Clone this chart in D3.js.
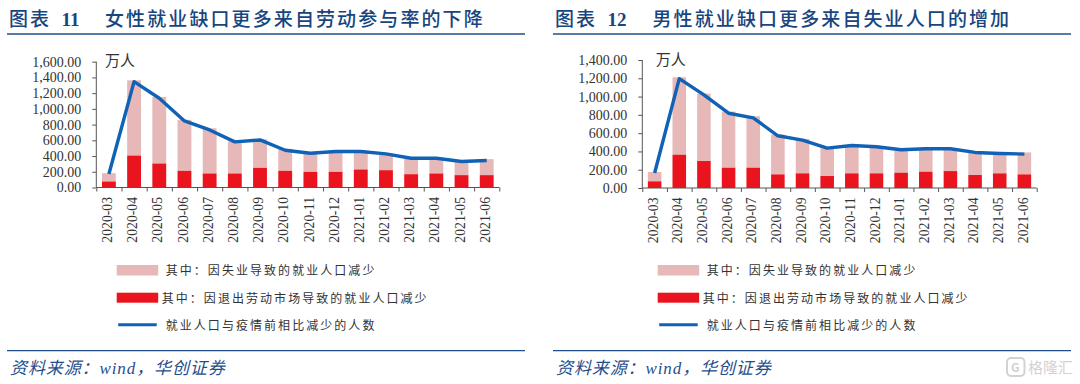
<!DOCTYPE html>
<html>
<head>
<meta charset="utf-8">
<script src="https://cdn.jsdelivr.net/npm/d3@7"></script>
<style>
    html, body { margin: 0; padding: 0; background: #fff; }
    svg { display: block; }
    text { font-family: "Noto Sans CJK SC", sans-serif; }
    .num { font-family: "Liberation Serif", "Noto Sans CJK SC", serif; }
</style>
</head>
<body>
<div id="chart"></div>
<script>
// months on the x axis, shared by both charts
const months = ["2020-03", "2020-04", "2020-05", "2020-06", "2020-07", "2020-08", "2020-09", "2020-10",
    "2020-11", "2020-12", "2021-01", "2021-02", "2021-03", "2021-04", "2021-05", "2021-06"];

// chart 11 - women
const womenLabourExit = [76, 406, 305, 212, 178, 178, 250, 212, 199, 199, 229, 220, 169, 178, 157, 157];
const womenUnemployed = [106, 957, 846, 648, 575, 406, 364, 279, 237, 258, 228, 208, 203, 194, 173, 203];
const womenTotal = [171, 1346, 1135, 847, 732, 580, 605, 474, 436, 457, 457, 428, 372, 372, 330, 343];

// chart 12 - men
const menLabourExit = [73, 364, 295, 222, 222, 149, 160, 131, 160, 160, 167, 178, 185, 142, 160, 149];
const menUnemployed = [102, 847, 738, 614, 563, 436, 378, 305, 305, 295, 251, 251, 244, 247, 222, 240];
const menTotal = [164, 1196, 1018, 818, 767, 571, 524, 436, 465, 451, 418, 429, 429, 389, 378, 371];

const legendLabels = ["其中：因失业导致的就业人口减少", "其中：因退出劳动市场导致的就业人口减少", "就业人口与疫情前相比减少的人数"];

const PINK = "#e6b8b7", RED = "#e9141d", BLUE = "#0f62b5", NAVY = "#1f4e8c", TITLE = "#17457f";

const svg = d3.select("#chart").append("svg")
    .attr("width", 1080)
    .attr("height", 384);

function drawPanel(cfg) {
    let g = svg.append("g");

    // header and footer rules
    g.append("line").attr("x1", cfg.ruleX).attr("x2", cfg.ruleX + 518).attr("y1", 34).attr("y2", 34)
        .attr("stroke", NAVY).attr("stroke-width", 1.5);
    g.append("line").attr("x1", cfg.ruleX).attr("x2", cfg.ruleX + 518).attr("y1", 350.7).attr("y2", 350.7)
        .attr("stroke", NAVY).attr("stroke-width", 1.2);
    g.append("text").attr("x", cfg.ruleX + 2).attr("y", 26)
        .attr("fill", TITLE).attr("font-size", 19).attr("font-weight", 500)
        .attr("letter-spacing", 2).text("图表");
    g.append("text").attr("class", "num").attr("x", cfg.ruleX + 54.5).attr("y", 26)
        .attr("fill", TITLE).attr("font-size", 19).attr("font-weight", 700).text(cfg.number);
    g.append("text").attr("x", cfg.ruleX + cfg.titleOffset).attr("y", 26)
        .attr("fill", TITLE).attr("font-size", 19).attr("font-weight", 500)
        .attr("letter-spacing", 2.1).text(cfg.title);

    // scales
    let x = d3.scaleBand().domain(months).range([cfg.left, cfg.right]).paddingInner(0.45).paddingOuter(0.225);
    let edges = d3.scaleLinear().domain([0, months.length]).range([cfg.left, cfg.right]);
    let y = d3.scaleLinear().domain([0, cfg.yMax]).range([cfg.bottom, cfg.top]);

    // stacked bars
    let stacked = months.map((m, i) => ({ month: m, exit: cfg.exit[i], unemployed: cfg.unemployed[i] }));
    let series = d3.stack().keys(["exit", "unemployed"])(stacked);
    let colors = { exit: RED, unemployed: PINK };
    g.selectAll(".layer")
        .data(series.slice().reverse())
        .enter().append("g")
        .attr("fill", d => colors[d.key])
        .selectAll("rect")
        .data(d => d)
        .enter().append("rect")
        .attr("x", d => x(d.data.month))
        .attr("width", x.bandwidth())
        .attr("y", d => y(d[1]))
        .attr("height", d => y(d[0]) - y(d[1]));

    // axes
    let yAxis = d3.axisLeft(y).tickValues(d3.range(0, cfg.yMax + 1, 200))
        .tickFormat(d3.format(",.2f")).tickSize(4).tickPadding(11);
    let yG = g.append("g").attr("transform", `translate(${cfg.left},0)`).call(yAxis);
    yG.select(".domain").attr("stroke", "#555").attr("d", `M0,${cfg.top}V${cfg.bottom}`);
    yG.selectAll(".tick line").attr("stroke", "#555");
    yG.selectAll("text").attr("class", "num").attr("font-size", 14).attr("fill", "#333");

    let tickG = g.append("g").attr("transform", `translate(0,${cfg.bottom})`)
        .call(d3.axisBottom(edges).tickValues(d3.range(0, months.length + 1)).tickFormat("").tickSize(4));
    tickG.select(".domain").attr("stroke", "#555").attr("d", `M${cfg.left},0H${cfg.right}`);
    tickG.selectAll(".tick line").attr("stroke", "#555");

    let xG = g.append("g").attr("transform", `translate(0,${cfg.bottom})`)
        .call(d3.axisBottom(x).tickSize(0));
    xG.select(".domain").remove();
    xG.selectAll("text").attr("class", "num")
        .attr("font-size", 13.7).attr("fill", "#333")
        .attr("transform", "rotate(-90)")
        .attr("text-anchor", "end")
        .attr("x", 0).attr("y", 0)
        .attr("dx", "-9.5px").attr("dy", "0")
        .attr("dominant-baseline", "middle");

    // line
    let line = d3.line().x((d, i) => x(months[i]) + x.bandwidth() / 2).y(d => y(d));
    g.append("path").datum(cfg.total)
        .attr("fill", "none").attr("stroke", BLUE).attr("stroke-width", 3.4)
        .attr("stroke-linejoin", "round").attr("d", line);

    // unit
    g.append("text").attr("x", cfg.left + cfg.unitDx).attr("y", cfg.unitY)
        .attr("font-size", 15).attr("fill", "#333").text("万人");

    // legend
    let lx = cfg.legendX;
    g.append("rect").attr("x", lx).attr("y", 265).attr("width", 41.5).attr("height", 10.5).attr("fill", PINK);
    g.append("rect").attr("x", lx).attr("y", 292.7).attr("width", 41.5).attr("height", 10).attr("fill", RED);
    g.append("line").attr("x1", lx + 1.5).attr("x2", lx + 40).attr("y1", 324.7).attr("y2", 324.7)
        .attr("stroke", BLUE).attr("stroke-width", 3);
    [[49, 270], [45, 298], [49, 325]].forEach((p, i) => {
        g.append("text").attr("x", lx + p[0]).attr("y", p[1] + 4.5)
            .attr("font-size", 12).attr("fill", "#333").attr("letter-spacing", 2.05).text(legendLabels[i]);
    });

    // source
    g.append("text").attr("class", "num").attr("x", cfg.ruleX + 3).attr("y", 373.5)
        .attr("fill", NAVY).attr("font-size", 17).attr("font-style", "italic")
        .attr("letter-spacing", 0.9)
        .text("资料来源：wind，华创证券");
}

drawPanel({
    number: "11", title: "女性就业缺口更多来自劳动参与率的下降", titleOffset: 98,
    exit: womenLabourExit, unemployed: womenUnemployed, total: womenTotal,
    ruleX: 7, left: 96.3, right: 499.3, top: 61.7, bottom: 187.5, yMax: 1600,
    unitDx: 8.7, unitY: 66, legendX: 116.7
});

drawPanel({
    number: "12", title: "男性就业缺口更多来自失业人口的增加", titleOffset: 99.5,
    exit: menLabourExit, unemployed: menUnemployed, total: menTotal,
    ruleX: 553, left: 642.3, right: 1036.7, top: 60, bottom: 188, yMax: 1400,
    unitDx: 13.4, unitY: 65, legendX: 657.7
});

// watermark
let mark = svg.append("g");
mark.append("rect").attr("x", 1007).attr("y", 358).attr("width", 17.5).attr("height", 18).attr("rx", 4)
    .attr("fill", "none").attr("stroke", "#d2d2d2").attr("stroke-width", 2);
mark.append("text").attr("x", 1011).attr("y", 372).attr("font-size", 12).attr("font-weight", 700)
    .attr("fill", "#d2d2d2").text("G");
mark.append("text").attr("x", 1028).attr("y", 373).attr("font-size", 15).attr("fill", "#d2d2d2").text("格隆汇");
</script>
</body>
</html>
